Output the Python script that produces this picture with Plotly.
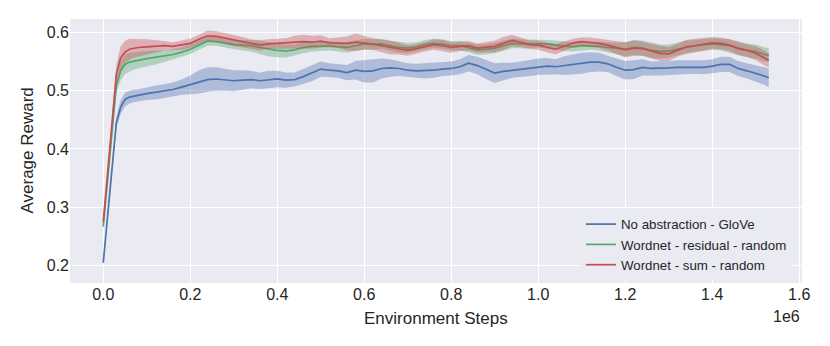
import plotly.graph_objects as go

# Environment steps (in units of 1e6)
STEPS = [0.00, 0.01, 0.02, 0.03, 0.04, 0.05, 0.06, 0.07,
         0.08, 0.10, 0.12, 0.14, 0.16, 0.18, 0.20, 0.22, 0.24, 0.26,
         0.28, 0.30, 0.32, 0.34, 0.36, 0.38, 0.40, 0.42, 0.44, 0.46,
         0.48, 0.50, 0.52, 0.54, 0.56, 0.58, 0.60, 0.62, 0.64, 0.66,
         0.68, 0.70, 0.72, 0.74, 0.76, 0.78, 0.80, 0.82, 0.84, 0.86,
         0.88, 0.90, 0.92, 0.94, 0.96, 0.98, 1.00, 1.02, 1.04, 1.06,
         1.08, 1.10, 1.12, 1.14, 1.16, 1.18, 1.20, 1.22, 1.24, 1.26,
         1.28, 1.30, 1.32, 1.34, 1.36, 1.38, 1.40, 1.42, 1.44, 1.46,
         1.48, 1.50, 1.52, 1.53]

# No abstraction - GloVe
BLUE = [.205, .285, .365, .445, .472, .485, .489, .491,
        .492, .495, .497, .499, .502, .506, .510, .515, .519, .520,
        .519, .517, .518, .519, .517, .519, .520, .518, .519, .524,
        .530, .537, .535, .534, .531, .535, .533, .534, .538, .539,
        .538, .535, .534, .534, .535, .537, .538, .541, .547, .543,
        .536, .530, .533, .535, .537, .539, .541, .542, .541, .543,
        .545, .547, .549, .549, .546, .540, .535, .536, .540, .538,
        .538, .539, .540, .540, .541, .540, .542, .545, .545, .538,
        .534, .530, .525, .522]
BLUE_HW = [.002, .004, .006, .010, .012, .012, .011, .011,
           .010, .011, .012, .012, .012, .013, .016, .020, .021, .020,
           .019, .018, .017, .015, .014, .015, .014, .013, .012, .013,
           .014, .013, .012, .012, .013, .016, .019, .020, .017, .015,
           .013, .012, .012, .013, .013, .012, .012, .013, .014, .015,
           .016, .017, .015, .013, .013, .014, .014, .014, .013, .016,
           .017, .018, .017, .016, .014, .015, .016, .016, .014, .012,
           .012, .012, .012, .012, .012, .012, .012, .013, .013, .013,
           .013, .014, .015, .016]

# Wordnet - residual - random
GREEN = [.267, .350, .432, .508, .534, .545, .549, .551,
         .552, .555, .557, .559, .562, .566, .571, .578, .585, .584,
         .581, .579, .578, .577, .574, .571, .569, .568, .570, .574,
         .576, .576, .577, .575, .574, .577, .580, .579, .580, .577,
         .574, .573, .575, .579, .581, .580, .577, .577, .574, .570,
         .571, .573, .577, .581, .580, .580, .581, .580, .578, .576,
         .575, .577, .577, .576, .574, .572, .571, .574, .573, .569,
         .567, .568, .571, .575, .577, .579, .580, .579, .577, .573,
         .569, .567, .562, .561]
GREEN_HW = [.002, .004, .007, .012, .016, .016, .016, .015,
            .014, .013, .012, .010, .009, .008, .008, .008, .008, .007,
            .007, .008, .009, .010, .011, .012, .012, .011, .009, .010,
            .009, .008, .008, .008, .009, .009, .009, .009, .008, .008,
            .009, .009, .008, .008, .008, .008, .008, .008, .008, .009,
            .009, .009, .009, .008, .008, .008, .007, .007, .008, .008,
            .008, .008, .007, .007, .008, .010, .012, .013, .013, .013,
            .012, .011, .011, .011, .010, .010, .010, .010, .011, .012,
            .012, .012, .012, .012]

# Wordnet - sum - random
RED = [.275, .360, .445, .528, .556, .566, .571, .573,
       .574, .575, .576, .577, .576, .578, .581, .588, .594, .593,
       .590, .586, .583, .580, .578, .580, .581, .581, .583, .584,
       .583, .585, .582, .582, .581, .583, .582, .580, .577, .574,
       .572, .569, .572, .575, .579, .577, .574, .576, .577, .573,
       .575, .576, .581, .586, .583, .579, .578, .574, .571, .576,
       .582, .584, .583, .581, .578, .574, .570, .573, .572, .568,
       .564, .563, .569, .575, .577, .579, .582, .581, .578, .572,
       .569, .564, .556, .552]
RED_HW = [.002, .004, .008, .016, .020, .019, .018, .016,
          .015, .013, .011, .008, .007, .008, .008, .008, .009, .009,
          .009, .010, .009, .008, .009, .008, .008, .009, .011, .012,
          .011, .010, .008, .009, .012, .015, .012, .010, .011, .012,
          .010, .009, .008, .008, .009, .010, .009, .008, .008, .008,
          .009, .010, .011, .010, .008, .007, .008, .008, .009, .008,
          .007, .007, .008, .008, .009, .011, .013, .013, .012, .012,
          .013, .012, .011, .012, .012, .011, .010, .010, .010, .011,
          .011, .012, .013, .012]

SERIES = [
    ("No abstraction - GloVe", BLUE, BLUE_HW, (76, 114, 176)),
    ("Wordnet - residual - random", GREEN, GREEN_HW, (85, 168, 104)),
    ("Wordnet - sum - random", RED, RED_HW, (196, 78, 82)),
]

X_TICKS = [0.0, 0.2, 0.4, 0.6, 0.8, 1.0, 1.2, 1.4, 1.6]
X_TICK_TEXT = ["0.0", "0.2", "0.4", "0.6", "0.8", "1.0", "1.2", "1.4", "1.6"]
Y_TICKS = [0.2, 0.3, 0.4, 0.5, 0.6]
Y_TICK_TEXT = ["0.2", "0.3", "0.4", "0.5", "0.6"]

for _, m, h, _c in SERIES:
    assert len(m) == len(STEPS) and len(h) == len(STEPS)

fig = go.Figure()
for name, mean, hw, (r, g, b) in SERIES:
    upper = [m + d for m, d in zip(mean, hw)]
    lower = [m - d for m, d in zip(mean, hw)]
    fig.add_trace(go.Scatter(
        x=STEPS + STEPS[::-1], y=upper + lower[::-1],
        fill="toself", fillcolor=f"rgba({r},{g},{b},0.38)",
        line=dict(width=0), mode="lines", showlegend=False, hoverinfo="skip"))
    fig.add_trace(go.Scatter(
        x=STEPS, y=mean, mode="lines", name=name,
        line=dict(color=f"rgb({r},{g},{b})", width=1.7)))

TXT = "#262626"
# The page body adds an 8px offset, so the figure is 8px smaller on each side.
fig.update_layout(
    width=822, height=338,
    margin=dict(l=62, r=28, t=11, b=63),
    paper_bgcolor="white", plot_bgcolor="#EAEAF2",
    font=dict(family="Liberation Sans, Arial, sans-serif", size=16, color=TXT),
    xaxis=dict(range=[-0.0765, 1.6065], tickvals=X_TICKS, ticktext=X_TICK_TEXT,
               showgrid=True, gridcolor="white", gridwidth=1.4, zeroline=False,
               showline=False, ticks="", tickfont=dict(size=16, color=TXT)),
    yaxis=dict(range=[0.1703, 0.6228], tickvals=Y_TICKS, ticktext=Y_TICK_TEXT,
               showgrid=True, gridcolor="white", gridwidth=1.4, zeroline=False,
               showline=False, ticks="", tickfont=dict(size=16, color=TXT)),
    legend=dict(x=0.698, y=0.2804, xanchor="left", yanchor="top",
                bgcolor="#EAEAF2", borderwidth=0, itemwidth=30,
                font=dict(size=13.3, color=TXT), tracegroupgap=0),
    showlegend=True,
    hovermode=False,
    annotations=[
        dict(text="Environment Steps", xref="paper", yref="paper", x=0.5, y=0,
             xanchor="center", yanchor="middle", yshift=-35, showarrow=False,
             font=dict(size=17, color=TXT)),
        dict(text="1e6", xref="paper", yref="paper", x=1, y=0,
             xanchor="right", yanchor="middle", yshift=-33, showarrow=False,
             font=dict(size=16, color=TXT)),
        dict(text="Average Reward", xref="paper", yref="paper", x=0, y=0.5,
             xanchor="center", yanchor="middle", xshift=-43.5, textangle=-90,
             showarrow=False, font=dict(size=17, color=TXT)),
    ],
)

fig.write_html("out.html", config={"displayModeBar": False})
